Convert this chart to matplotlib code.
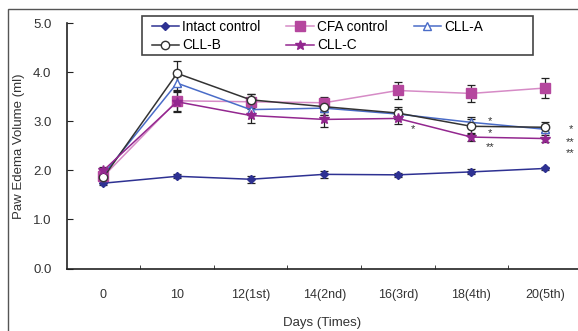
import numpy as np
import matplotlib
matplotlib.use("Agg")
import matplotlib.pyplot as plt
from matplotlib.patches import Rectangle

plt.rcParams['font.family'] = ['Liberation Sans', 'DejaVu Sans']

days = ["0", "10", "12(1st)", "14(2nd)", "16(3rd)", "18(4th)", "20(5th)"]

intact = [1.74, 1.88, 1.82, 1.92, 1.91, 1.97, 2.04]
intact_err = [0.04, 0.04, 0.07, 0.07, 0.04, 0.05, 0.04]
cfa = [1.88, 3.42, 3.40, 3.38, 3.63, 3.57, 3.68]
cfa_err = [0.10, 0.20, 0.15, 0.12, 0.18, 0.18, 0.20]
cll_a = [1.92, 3.78, 3.24, 3.27, 3.15, 2.98, 2.84]
cll_a_err = [0.08, 0.15, 0.12, 0.15, 0.10, 0.10, 0.08]
cll_b = [1.86, 3.98, 3.44, 3.30, 3.17, 2.90, 2.88]
cll_b_err = [0.08, 0.25, 0.12, 0.18, 0.12, 0.15, 0.10]
cll_c = [2.00, 3.40, 3.12, 3.04, 3.06, 2.68, 2.65]
cll_c_err = [0.08, 0.20, 0.15, 0.15, 0.12, 0.08, 0.08]

# significance marks: (category index, y value, text)
stars = [(4.2, 2.85, "*"), (5.25, 3.0, "*"), (5.25, 2.77, "*"), (5.25, 2.48, "**"),
         (6.35, 2.85, "*"), (6.35, 2.57, "**"), (6.35, 2.35, "**")]

W, H = 578, 331
fig = plt.figure(figsize=(W / 100, H / 100), dpi=100)
# outer frame round the figure
fig.patches.append(Rectangle((8 / W, -0.1), 1.2, (H - 9) / H + 0.1,
                             transform=fig.transFigure, fill=False,
                             edgecolor='#555555', lw=1.0, clip_on=False))
ax = fig.add_axes([0.1154, 0.1888, 0.8846, 0.7408])

x = np.arange(len(days))

series = [
    ("Intact control", intact, intact_err, dict(color='#2E3192', marker='D', ms=4,
                                                mfc='#2E3192', mec='#2E3192')),
    ("CFA control", cfa, cfa_err, dict(color='#D68BC6', marker='s', ms=7,
                                        mfc='#B5479E', mec='#B5479E')),
    ("CLL-A", cll_a, cll_a_err, dict(color='#4A6CC8', marker='^', ms=6,
                                      mfc='white', mec='#4A6CC8')),
    ("CLL-B", cll_b, cll_b_err, dict(color='#333333', marker='o', ms=6,
                                      mfc='white', mec='#333333')),
    ("CLL-C", cll_c, cll_c_err, dict(color='#93278F', marker='*', ms=7,
                                      mfc='#93278F', mec='#93278F')),
]

handles = {}
for name, vals, err, st in series:
    ax.errorbar(x, vals, yerr=err, fmt='none', ecolor='#222222', elinewidth=0.9,
                capsize=3, capthick=0.9, zorder=2)
    h, = ax.plot(x, vals, lw=1.1, label=name, zorder=3, **st)
    handles[name] = h

for xi, yi, t in stars:
    ax.text(xi, yi, t, fontsize=8, color='#333333', ha='center', va='center')

ax.set_xlim(-0.5, 6.45)
ax.set_ylim(0, 5)
ax.set_yticks(np.arange(0, 5.1, 1.0))
ax.set_yticklabels([f"{v:.1f}" for v in np.arange(0, 5.1, 1.0)])
ax.set_xticks(x)
ax.set_xticklabels(days)
ax.set_xticks(np.arange(0.5, 6.5, 1.0), minor=True)
ax.tick_params(axis='x', which='major', length=0, pad=15, labelsize=9, colors='#333333')
ax.tick_params(axis='x', which='minor', direction='in', length=3, color='#222222')
ax.tick_params(axis='y', direction='in', length=4, pad=11, labelsize=9.5,
               colors='#222222', labelcolor='#333333')
for s in ['top', 'right']:
    ax.spines[s].set_visible(False)
for s in ['left', 'bottom']:
    ax.spines[s].set_color('#222222')
    ax.spines[s].set_linewidth(1.2)

ax.set_xlabel("Days (Times)", fontsize=9.5, color='#333333', labelpad=11)
ax.set_ylabel("Paw Edema Volume (ml)", fontsize=9.5, color='#333333', labelpad=6)

# legend entries without frame, box drawn separately (Excel style, padded right)
order = ["Intact control", "CLL-B", "CFA control", "CLL-C", "CLL-A"]
ax.add_patch(Rectangle((142 / W, 1 - 55 / H), (533 - 142) / W, 39 / H,
                       transform=fig.transFigure, fill=True, facecolor='white',
                       edgecolor='#444444', lw=1.2, zorder=6, clip_on=False))
leg = ax.legend([handles[n] for n in order], order, ncol=3, loc='upper left',
                bbox_to_anchor=(149 / W, 1 - 17 / H), bbox_transform=fig.transFigure,
                fontsize=9.8, frameon=False, handlelength=2.0,
                handletextpad=0.25, columnspacing=1.9, labelspacing=0.35,
                borderpad=0.2, borderaxespad=0)
leg.set_zorder(7)

fig.savefig("out.png", dpi=100)
